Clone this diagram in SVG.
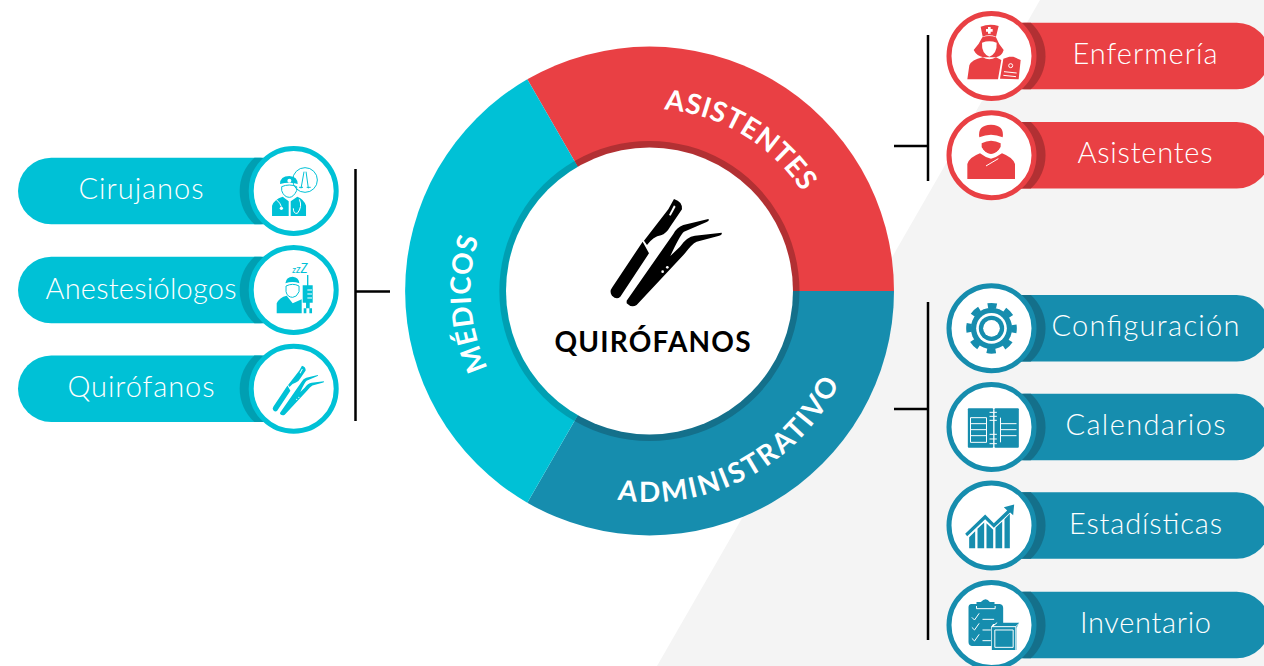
<svg xmlns="http://www.w3.org/2000/svg" width="1264" height="666" viewBox="0 0 1264 666">
<style>
text{font-family:"Lato","Noto Sans",sans-serif}
.lbl{font-size:29px;font-weight:300;fill:#fff;text-anchor:middle}
.arc{font-size:28px;font-weight:700;fill:#fff;text-anchor:middle}
.cy .pill,.cy .ic{fill:#00c1d6}.cy .sh{fill:#009fb2}.cy .ring{stroke:#00c1d6}.cy .o{stroke:#00c1d6}
.rd .pill,.rd .ic{fill:#e94044}.rd .sh{fill:#b23033}.rd .ring{stroke:#e94044}.rd .o{stroke:#e94044}
.bl .pill,.bl .ic{fill:#168dae}.bl .sh{fill:#14708b}.bl .ring{stroke:#168dae}.bl .o{stroke:#168dae}
.ring{fill:#fff;stroke-width:5}
.w{fill:#fff}.wl{fill:none;stroke:#fff;stroke-width:3}
.o{fill:none;stroke-width:3}
.cn{stroke:#000;fill:none;stroke-width:2.5}
</style>
<defs>
<rect id="pillR" x="0" y="-33.3" width="278.5" height="66.6" rx="33.3"/>
<rect id="pillL" x="-275.7" y="-33.3" width="275.7" height="66.6" rx="33.3"/>
<path id="crR" d="M0-33.3H39.3A45 45 0 0 1 39.3 33.3H0Z"/>
<path id="crL" d="M0-33.3H-39.3A45 45 0 0 0-39.3 33.3H0Z"/>
<g id="tools">
<path d="M522 87Q548 95 546 118L512 168Q498 192 483 196Q460 200 441 225L432 212L505 118Z"/>
<path d="M428 215L447 250L361 380Q350 391 336 377Q327 365 337 352Z"/>
<path d="M380 392L520 192Q530 172 550 165L625 147Q630 151 620 156L552 185Q540 195 511 258L540 230Q560 200 585 197L665 188Q668 195 655 198L590 215Q575 222 555 250L410 405Q395 415 380 400Z"/>
<path d="M507 135L522 106L527 110L512 137Z" fill="#fff"/>
<circle cx="488" cy="305" r="4" fill="#fff"/><circle cx="502" cy="292" r="4" fill="#fff"/>
</g>
<path id="asisT" d="M605.2 114.4A182 182 0 0 1 826.1 246.7"/>
<path id="medT" d="M532.1 426.1A179 179 0 0 1 514.4 173.6"/>
<path id="admT" d="M570.4 486.6A211 211 0 0 0 855.9 334.9"/>
</defs>
<rect width="1264" height="666" fill="#fff"/>
<path d="M1040 0H1264V666H657Z" fill="#f4f4f4"/>

<g id="connectors" class="connectors">
<path class="cn" d="M355.5 169V421M356 291.5H390"/>
<path class="cn" d="M928 35V181M894 146H928"/>
<path class="cn" d="M928 302V640M894 409H928"/>
</g>

<g id="hub">
<path id="seg-asistentes" fill="#e94044" d="M527.3 79.3A244.5 244.5 0 0 1 894 291H649.5Z"/>
<path id="seg-administrativo" fill="#168dae" d="M894 291A244.5 244.5 0 0 1 527.3 502.7L649.5 291Z"/>
<path id="seg-medicos" fill="#00c1d6" d="M527.3 502.7A244.5 244.5 0 0 1 527.3 79.3L649.5 291Z"/>
<path fill="#b23033" d="M574.5 161A150 150 0 0 1 799.5 291H649.5Z"/>
<path fill="#14708b" d="M799.5 291A150 150 0 0 1 574.5 421L649.5 291Z"/>
<path fill="#009fb2" d="M574.5 421A150 150 0 0 1 574.5 161L649.5 291Z"/>
<circle cx="649.5" cy="291" r="143.5" fill="#fff"/>
<use href="#tools" transform="translate(500 170) scale(.3333)" fill="#000"/>
<text x="652.5" y="352" font-size="28" font-weight="700" text-anchor="middle" textLength="196" fill="#000">QUIRÓFANOS</text>
<text class="arc" letter-spacing=".6"><textPath href="#asisT" startOffset="50%">ASISTENTES</textPath></text>
<text class="arc" letter-spacing=".8"><textPath href="#medT" startOffset="50%">MÉDICOS</textPath></text>
<text class="arc" letter-spacing="2.2"><textPath href="#admT" startOffset="50%">ADMINISTRATIVO</textPath></text>
</g>

<g id="cirujanos" class="cy" transform="translate(293.7 191)">
<use href="#pillL" class="pill"/><use href="#crL" class="sh"/><circle class="ring" r="42.5"/>
<g transform="scale(.3333) translate(-881 -153)">
<g class="ic">
<path d="M840 132Q840 108 868 108Q893 110 893 132Q868 124 840 132Z"/>
<circle class="w" cx="868" cy="122" r="6"/>
<path d="M816 228V197Q822 178 848 170L866 184V228ZM918 228V197Q912 178 892 170L872 184V228Z"/>
</g>
<path class="o" d="M845 140Q868 130 890 140V152Q880 172 868 172Q852 172 845 152Z"/>
<circle class="o" cx="915" cy="120" r="37" stroke-width="2"/>
<path class="o" d="M903 145L912 95M925 145L918 95M897 142h12M920 142h12"/>
<circle class="w" cx="844" cy="205" r="5"/>
<path class="wl" d="M828 178Q842 190 844 200M898 178Q908 200 892 220Q880 222 880 205"/>
</g>
<text class="lbl" x="-152.7" y="8" textLength="125">Cirujanos</text>
</g>

<g id="anestesiologos" class="cy" transform="translate(293.7 290)">
<use href="#pillL" class="pill"/><use href="#crL" class="sh"/><circle class="ring" r="42.5"/>
<g transform="scale(.3333) translate(-881 -450)">
<g class="ic">
<path d="M856 430Q858 410 878 410Q897 412 898 430Q878 422 856 430Z"/>
<path d="M830 520V490Q838 472 860 467L878 490L905 478V520Z"/>
<path d="M908 436H938V488H929V505H936V520H928V505H919V520H911V505H918V488H908ZM921 405H925V436H921Z"/>
</g>
<path class="o" d="M858 438Q878 428 897 438V455Q890 472 878 472Q862 472 858 455Z"/>
<path class="wl" d="M922 450H936M922 462H936M922 474H936"/>
<text x="877" y="400" font-size="26" font-style="italic" fill="#00c1d6">z<tspan font-size="32">z</tspan><tspan font-size="38">Z</tspan></text>
</g>
<text class="lbl" x="-152.7" y="9" textLength="191">Anestesiólogos</text>
</g>

<g id="quirofanos" class="cy" transform="translate(293.7 388.7)">
<use href="#pillL" class="pill"/><use href="#crL" class="sh"/><circle class="ring" r="42.5"/>
<use href="#tools" class="ic" transform="translate(-21 -23) scale(.154) translate(-332 -87)"/>
<text class="lbl" x="-152.7" y="8" textLength="147">Quirófanos</text>
</g>

<g id="enfermeria" class="rd" transform="translate(991.5 56)">
<use href="#pillR" class="pill"/><use href="#crR" class="sh"/><circle class="ring" r="42.5"/>
<g transform="scale(.3333) translate(-184.5 -168)">
<g class="ic">
<path d="M152 80Q178 70 206 78L198 110Q178 102 158 110Z"/>
<path d="M157 112Q178 104 198 112Q205 132 221 150Q216 168 198 172H160Q140 168 131 150Q148 132 157 112Z"/>
<path d="M112 238L118 196Q124 180 158 172Q178 184 198 172L214 180L204 238Z"/>
<path d="M220 176L238 170H250L272 180L266 238L210 236Z"/>
</g>
<path class="w" d="M174 81H182V87H188V95H182V101H174V95H168V87H174Z"/>
<path class="w" d="M156 128Q178 120 200 128Q202 160 178 170Q154 160 156 128Z"/>
<circle cx="242" cy="197" r="6" fill="none" stroke="#fff" stroke-width="3"/>
<path class="wl" stroke-width="2" d="M222 215L260 219M220 226L258 230"/>
</g>
<text class="lbl" x="153.5" y="8" textLength="145">Enfermería</text>
</g>

<g id="asistentes" class="rd" transform="translate(991.5 155.3)">
<use href="#pillR" class="pill"/><use href="#crR" class="sh"/><circle class="ring" r="42.5"/>
<g transform="scale(.3333) translate(-184.5 -466)">
<g class="ic">
<path d="M148 412Q142 375 183 374Q224 375 218 412Q183 396 148 412Z"/>
<path d="M155 430Q183 414 212 430V442Q200 462 183 462Q166 462 155 442Z"/>
<path d="M112 537V492Q118 472 150 460Q165 472 183 476Q200 472 216 460Q248 472 255 492V537Z"/>
</g>
<path class="wl" stroke-width="2.5" d="M152 440Q162 462 183 465Q205 462 214 440M168 498L205 476"/>
</g>
<text class="lbl" x="153.5" y="8" textLength="135">Asistentes</text>
</g>

<g id="configuracion" class="bl" transform="translate(991.5 328.3)">
<use href="#pillR" class="pill"/><use href="#crR" class="sh"/><circle class="ring" r="42.5"/>
<g transform="scale(.3333) translate(-187 -145)">
<circle class="ic" cx="187" cy="145" r="62"/>
<circle cx="187" cy="145" r="68" fill="none" stroke="#168dae" stroke-width="16" stroke-dasharray="27 26.4" stroke-dashoffset="13.5"/>
<circle class="w" cx="187" cy="145" r="46"/>
<circle class="ic" cx="187" cy="145" r="38"/>
<circle class="w" cx="187" cy="145" r="25"/>
</g>
<text class="lbl" x="154" y="8" textLength="188">Configuración</text>
</g>

<g id="calendarios" class="bl" transform="translate(991.5 427)">
<use href="#pillR" class="pill"/><use href="#crR" class="sh"/><circle class="ring" r="42.5"/>
<g transform="scale(.3333) translate(-187 -440)">
<rect class="ic" x="116" y="384" width="76" height="118" rx="3"/>
<rect class="ic" x="196" y="384" width="73" height="118" rx="3"/>
<path class="wl" stroke-width="2" d="M124 412H172V486H124ZM124 430H172M124 448H172M124 466H172M214 412V486M214 430H262M214 448H262M214 466H262"/>
<path class="wl" stroke-width="3.5" d="M181 396H203M181 408H203M181 420H203M181 462H203M181 476H203M181 490H203"/>
</g>
<text class="lbl" x="154" y="8" textLength="160">Calendarios</text>
</g>

<g id="estadisticas" class="bl" transform="translate(991.5 525.5)">
<use href="#pillR" class="pill"/><use href="#crR" class="sh"/><circle class="ring" r="42.5"/>
<g transform="scale(.3333) translate(-187 -165)">
<path class="ic" d="M120 233V200L138 182V233ZM145 233V175L165 156V233ZM172 233V158L192 178V233ZM199 233V172L219 153V233ZM226 233V146L242 130V233Z"/>
<path class="ic" d="M108 190L168 132L194 158L234 120L224 110L255 102L252 134L243 126L194 172L168 146L114 197Z"/>
</g>
<text class="lbl" x="154" y="8" textLength="153">Estadísticas</text>
</g>

<g id="inventario" class="bl" transform="translate(991.5 625)">
<use href="#pillR" class="pill"/><use href="#crR" class="sh"/><circle class="ring" r="42.5"/>
<g transform="scale(.3333) translate(-187 -465)">
<path class="ic" d="M125 402H142V396H155Q170 380 182 396H196V402H212Q222 404 222 414V462H192L186 470V528H128Q118 526 118 516V410Q118 404 125 402Z"/>
<path class="wl" stroke-width="3" d="M142 408V416H198V408"/>
<path class="wl" stroke-width="4.5" d="M128 442L136 450L150 430M128 472L136 480L150 460M128 505L136 513L150 493M160 448H195M160 480H185M160 512H185"/>
<path class="ic" d="M188 472L204 458H270L262 474V540H188Z"/>
<path class="wl" stroke-width="2" d="M188 470H260V540M188 470L204 458M260 470L270 460M197 480H252V532H197Z"/>
</g>
<text class="lbl" x="154" y="8" textLength="131">Inventario</text>
</g>
</svg>
